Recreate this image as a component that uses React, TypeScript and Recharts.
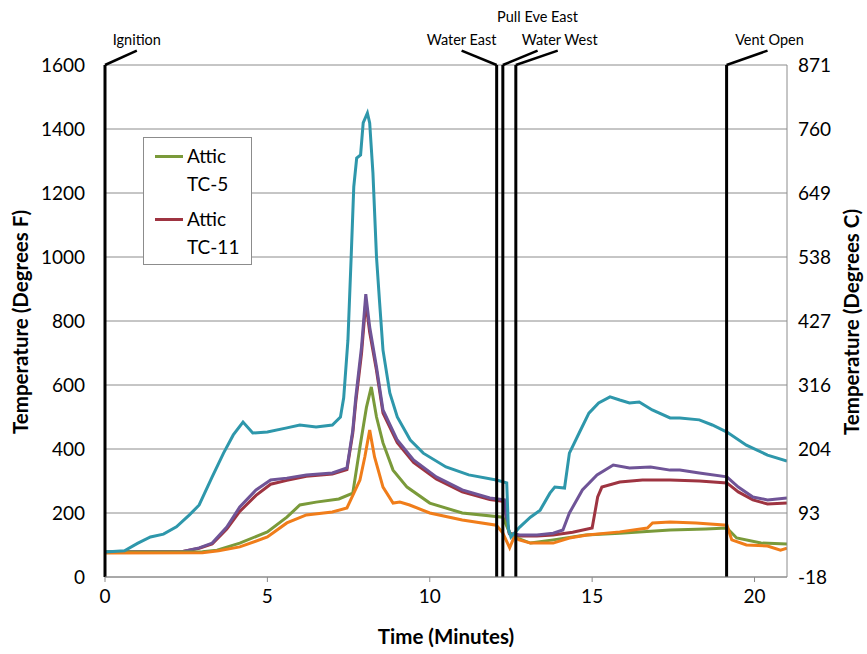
import React from 'react';
import { LineChart, Line, XAxis, YAxis, CartesianGrid, ReferenceLine, ReferenceDot } from 'recharts';

// time in minutes, temperature in degrees F
const tealTime = [0, 0.6, 1.0, 1.4, 1.8, 2.2, 2.6, 2.9, 3.3, 3.65, 3.95, 4.25, 4.55, 5.0, 5.6, 6.0, 6.5, 7.0, 7.25, 7.35, 7.48, 7.58, 7.66, 7.75, 7.87, 7.95, 8.08, 8.15, 8.25, 8.36, 8.45, 8.56, 8.77, 9.0, 9.4, 9.8, 10.5, 11.2, 12.05, 12.37, 12.42, 12.5, 12.77, 13.1, 13.4, 13.7, 13.85, 14.15, 14.3, 14.6, 14.9, 15.2, 15.55, 15.85, 16.15, 16.45, 16.85, 17.4, 17.7, 18.3, 18.7, 19.15, 19.75, 20.4, 21];
const tealTemp = [78, 82, 105, 125, 134, 157, 194, 225, 313, 387, 444, 484, 450, 453, 466, 475, 469, 475, 500, 560, 740, 1000, 1219, 1309, 1319, 1419, 1450, 1419, 1263, 1000, 866, 709, 575, 500, 428, 387, 344, 319, 303, 294, 150, 125, 156, 187, 209, 262, 281, 278, 387, 450, 512, 544, 563, 553, 544, 547, 522, 497, 497, 491, 475, 453, 412, 381, 362];

const purpleTime = [0, 2.4, 2.9, 3.3, 3.75, 4.15, 4.65, 5.1, 5.6, 6.2, 7.0, 7.45, 7.63, 7.72, 7.9, 8.03, 8.15, 8.36, 8.56, 9.0, 9.5, 10.2, 11.0, 11.85, 12.3, 12.37, 12.45, 12.77, 13.3, 13.8, 14.1, 14.3, 14.7, 15.15, 15.65, 16.15, 16.8, 17.4, 17.7, 18.3, 19.15, 19.5, 19.95, 20.4, 21];
const purpleTemp = [78, 80, 91, 106, 156, 219, 272, 303, 309, 319, 325, 341, 459, 560, 720, 884, 781, 656, 522, 428, 366, 313, 272, 247, 241, 180, 137, 131, 131, 137, 147, 200, 272, 319, 350, 341, 344, 334, 334, 325, 313, 281, 250, 241, 247];

const tc11Time = [0, 2.4, 2.9, 3.3, 3.75, 4.15, 4.65, 5.1, 5.6, 6.2, 7.0, 7.45, 7.63, 7.72, 7.9, 8.03, 8.15, 8.36, 8.56, 9.0, 9.5, 10.2, 11.0, 11.85, 12.3, 12.37, 12.45, 12.77, 13.3, 13.8, 14.4, 15.0, 15.17, 15.3, 15.85, 16.55, 17.4, 18.3, 19.15, 19.5, 19.95, 20.4, 21];
const tc11Temp = [78, 80, 90, 103, 150, 205, 255, 290, 302, 315, 322, 336, 450, 545, 700, 860, 765, 645, 512, 420, 358, 306, 266, 242, 236, 175, 135, 128, 128, 131, 140, 153, 250, 281, 297, 303, 303, 300, 294, 266, 241, 228, 231];

const tc5Time = [0, 3.0, 3.45, 4.15, 5.0, 5.6, 6.0, 6.5, 7.2, 7.63, 7.85, 8.05, 8.2, 8.36, 8.56, 8.87, 9.3, 10.0, 11.0, 12.25, 12.45, 12.6, 13.1, 13.8, 14.8, 15.85, 17.4, 18.5, 19.15, 19.45, 20.2, 21];
const tc5Temp = [78, 79, 84, 106, 141, 187, 225, 234, 244, 262, 406, 530, 594, 500, 419, 334, 281, 231, 200, 187, 140, 125, 106, 116, 131, 137, 147, 150, 153, 122, 106, 103];

const orangeTime = [0, 3.0, 3.5, 4.15, 5.0, 5.6, 6.2, 7.0, 7.45, 7.85, 8.0, 8.15, 8.3, 8.56, 8.87, 9.08, 9.38, 10.0, 11.0, 12.05, 12.25, 12.46, 12.6, 12.75, 13.1, 13.8, 14.3, 14.85, 15.85, 16.7, 16.86, 17.4, 18.2, 19.15, 19.3, 19.75, 20.4, 20.8, 21];
const orangeTemp = [75, 76, 82, 94, 125, 169, 194, 203, 216, 303, 375, 459, 375, 281, 231, 234, 225, 200, 178, 162, 137, 91, 125, 116, 106, 106, 122, 131, 141, 153, 169, 172, 169, 162, 116, 100, 97, 84, 90];

const xTicks = [0, 5, 10, 15, 20];
const fTicks = [0, 200, 400, 600, 800, 1000, 1200, 1400, 1600];

const eventNames = ['Ignition', 'Water East', 'Pull Eve East', 'Water West', 'Vent Open'];
const eventTimes = [0, 12.06, 12.25, 12.65, 19.14];

// where each callout's leader ends and its text sits (minutes / degrees F)
const calloutX = [0.98, 10.98, 13.32, 13.94, 20.4];
const calloutTextY = [1678, 1678, 1750, 1678, 1678];
const calloutTextX = [0.98, 10.98, 13.32, 14.0, 20.46];

const COLORS = { tc5: '#7a9a3a', tc11: '#9e3441', purple: '#6f5497', orange: '#f07d1a', teal: '#2e97ab' };
const legendItems = [
  { name: 'Attic TC-5', color: COLORS.tc5 },
  { name: 'Attic TC-11', color: COLORS.tc11 },
];

const rows = (ts: number[], fs: number[]) => ts.map((t, i) => ({ t, f: fs[i] }));
const toC = (f: number) => String(Math.round(((f - 32) * 5) / 9));

const FONT = 'Lato, "Open Sans", sans-serif';
const LW = 3;

const axisTitle: React.CSSProperties = { position: 'absolute', fontFamily: FONT, fontWeight: 700, fontSize: 20.5, color: '#000', whiteSpace: 'nowrap' };

export default function App() {
  return (
    <div style={{ position: 'absolute', left: 0, top: 0, width: 867, height: 654, background: '#fff', fontFamily: FONT }}>
      <LineChart width={867} height={654} margin={{ top: 65, right: 20, bottom: 47, left: 45 }}>
        <CartesianGrid vertical={false} stroke="#8c8c8c" strokeWidth={1} yAxisId="f" />
        <XAxis type="number" dataKey="t" domain={[0, 21]} ticks={xTicks} height={30} stroke="#8c8c8c" tickSize={5} tickMargin={8} tick={{ fill: '#000', fontSize: 19 }} allowDataOverflow />
        <YAxis yAxisId="f" domain={[0, 1600]} ticks={fTicks} width={60} axisLine={false} tickLine={false} tickSize={0} tickMargin={20} tick={{ fill: '#000', fontSize: 19 }} allowDataOverflow />
        <YAxis yAxisId="c" orientation="right" domain={[0, 1600]} ticks={fTicks} width={60} stroke="#8c8c8c" tickLine={false} tickSize={0} tickMargin={11} tickFormatter={toC} tick={{ fill: '#000', fontSize: 19, textAnchor: 'start' }} allowDataOverflow />

        <Line yAxisId="f" data={rows(tc11Time, tc11Temp)} dataKey="f" name="Attic TC-11" stroke={COLORS.tc11} strokeWidth={LW} dot={false} isAnimationActive={false} />
        <Line yAxisId="f" data={rows(purpleTime, purpleTemp)} dataKey="f" name="Attic TC-8" stroke={COLORS.purple} strokeWidth={LW} dot={false} isAnimationActive={false} />
        <Line yAxisId="f" data={rows(tc5Time, tc5Temp)} dataKey="f" name="Attic TC-5" stroke={COLORS.tc5} strokeWidth={LW} dot={false} isAnimationActive={false} />
        <Line yAxisId="c" data={rows(orangeTime, orangeTemp)} dataKey="f" name="Attic TC-2" stroke={COLORS.orange} strokeWidth={LW} dot={false} isAnimationActive={false} />
        <Line yAxisId="f" data={rows(tealTime, tealTemp)} dataKey="f" name="Attic TC-14" stroke={COLORS.teal} strokeWidth={LW} dot={false} isAnimationActive={false} />

        {eventTimes.map((t, i) => (
          <ReferenceLine key={'ev' + i} yAxisId="f" x={t} stroke="#000" strokeWidth={3} />
        ))}
        {eventTimes.map((t, i) => (
          <ReferenceLine key={'ld' + i} yAxisId="f" ifOverflow="visible" segment={[{ x: t, y: 1600 }, { x: calloutX[i], y: 1645 }]} stroke="#000" strokeWidth={2.5} />
        ))}
        {eventNames.map((name, i) => (
          <ReferenceDot key={'lb' + i} yAxisId="f" x={calloutTextX[i]} y={calloutTextY[i]} r={1} fill="none" stroke="none" ifOverflow="visible"
            label={{ value: name, position: 'center', fill: '#000', fontSize: 14.5, fontFamily: FONT }} />
        ))}
      </LineChart>

      <div style={{ position: 'absolute', left: 143, top: 137, width: 109, height: 128, boxSizing: 'border-box', border: '1px solid #8c8c8c', background: '#fff', padding: '4px 0 0 11px', fontFamily: FONT, fontSize: 19, color: '#000' }}>
        {legendItems.map((item, i) => {
          const [a, b] = item.name.split(' ');
          return (
            <div key={i} style={{ display: 'flex', alignItems: 'flex-start', marginBottom: 7 }}>
              <span style={{ display: 'inline-block', width: 28, height: 3, background: item.color, marginTop: 13, marginRight: 4 }} />
              <span style={{ lineHeight: '28px' }}>{a}<br />{b}</span>
            </div>
          );
        })}
      </div>

      <div style={{ ...axisTitle, left: 20, top: 322, transform: 'translate(-50%, -50%) rotate(-90deg)' }}>Temperature (Degrees F)</div>
      <div style={{ ...axisTitle, left: 851, top: 322, transform: 'translate(-50%, -50%) rotate(-90deg)' }}>Temperature (Degrees C)</div>
      <div style={{ ...axisTitle, left: 446, top: 636, transform: 'translate(-50%, -50%)' }}>Time (Minutes)</div>
    </div>
  );
}
